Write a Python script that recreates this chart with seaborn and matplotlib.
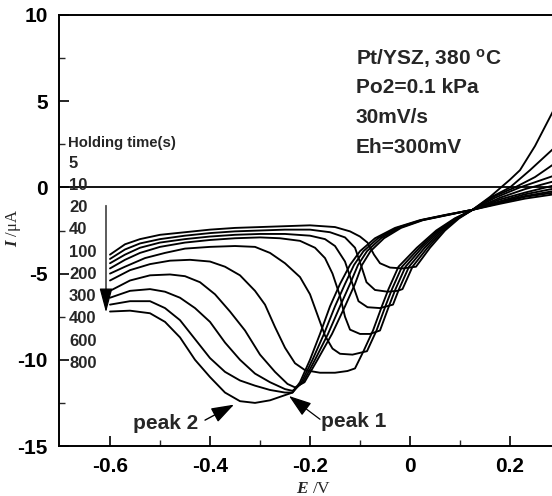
import matplotlib
matplotlib.use("Agg")
import matplotlib.pyplot as plt
import pandas as pd
import seaborn as sns

# ---------------- data ----------------
hold_times = [5, 10, 20, 40, 100, 200, 300, 400, 600, 800]

E_5 = [-0.60, -0.57, -0.54, -0.50, -0.45, -0.40, -0.35, -0.30, -0.25, -0.20, -0.15, -0.12, -0.10, -0.085,
       -0.072, -0.06, -0.04, -0.015, 0.012, 0.04, 0.07, 0.098, 0.125, 0.16, 0.18, 0.20, 0.22, 0.25, 0.30]
I_5 = [-3.9, -3.3, -3.0, -2.75, -2.6, -2.45, -2.35, -2.3, -2.25, -2.2, -2.3, -2.55, -2.85, -3.2,
       -3.9, -4.4, -4.65, -4.7, -4.6, -3.5, -2.5, -1.8, -1.3, -0.55, -0.05, 0.45, 1.0, 2.4, 5.2]

E_10 = [-0.60, -0.57, -0.54, -0.50, -0.45, -0.40, -0.35, -0.30, -0.25, -0.20, -0.16, -0.13, -0.11, -0.097,
        -0.087, -0.07, -0.045, -0.025, -0.015, 0.005, 0.035, 0.0665, 0.096, 0.125, 0.16, 0.20, 0.24, 0.30]
I_10 = [-4.15, -3.6, -3.25, -3.0, -2.8, -2.65, -2.55, -2.5, -2.45, -2.45, -2.6, -2.9, -3.5, -4.6,
        -5.5, -5.95, -6.05, -6.0, -5.9, -4.6, -3.5, -2.5, -1.8, -1.3, -0.6, 0.0, 1.0, 2.6]

E_20 = [-0.60, -0.57, -0.54, -0.50, -0.45, -0.40, -0.35, -0.30, -0.25, -0.20, -0.17, -0.15, -0.13, -0.115,
        -0.103, -0.085, -0.06, -0.034, -0.022, -0.002, 0.0295, 0.063, 0.0945, 0.125, 0.17, 0.21, 0.25, 0.30]
I_20 = [-4.4, -3.9, -3.5, -3.2, -3.0, -2.85, -2.75, -2.7, -2.7, -2.8, -3.0, -3.4, -4.3, -5.6,
        -6.6, -6.95, -7.0, -6.8, -5.9, -4.6, -3.5, -2.5, -1.8, -1.3, -0.5, 0.0, 0.6, 1.6]

E_40 = [-0.60, -0.57, -0.54, -0.50, -0.45, -0.40, -0.35, -0.30, -0.26, -0.22, -0.19, -0.17, -0.155, -0.14,
        -0.13, -0.12, -0.10, -0.08, -0.06, -0.041, -0.029, -0.009, 0.024, 0.0595, 0.0928, 0.125, 0.17, 0.22, 0.30]
I_40 = [-4.7, -4.2, -3.8, -3.45, -3.2, -3.05, -2.95, -2.9, -2.95, -3.1, -3.5, -4.1, -5.0, -6.3,
        -7.5, -8.25, -8.5, -8.5, -8.3, -6.8, -5.9, -4.6, -3.5, -2.5, -1.8, -1.3, -0.6, 0.0, 0.8]

E_100 = [-0.60, -0.57, -0.53, -0.49, -0.45, -0.40, -0.35, -0.31, -0.28, -0.25, -0.22, -0.20, -0.185, -0.17,
         -0.155, -0.14, -0.115, -0.086, -0.067, -0.048, -0.036, -0.016, 0.019, 0.056, 0.091, 0.125, 0.18, 0.23, 0.30]
I_100 = [-5.0, -4.6, -4.1, -3.8, -3.55, -3.45, -3.4, -3.45, -3.8, -4.4, -5.2, -6.2, -7.4, -8.6,
         -9.35, -9.65, -9.7, -9.5, -8.3, -6.8, -5.9, -4.6, -3.5, -2.5, -1.8, -1.3, -0.6, -0.1, 0.45]

E_200 = [-0.60, -0.56, -0.52, -0.48, -0.44, -0.40, -0.37, -0.34, -0.31, -0.29, -0.27, -0.25, -0.23, -0.21,
         -0.18, -0.15, -0.125, -0.11, -0.093, -0.074, -0.055, -0.043, -0.023, 0.0137, 0.0525, 0.0893, 0.125,
         0.18, 0.23, 0.30]
I_200 = [-5.4, -4.8, -4.45, -4.25, -4.2, -4.3, -4.6, -5.1, -6.0, -6.8, -8.1, -9.3, -10.2, -10.6,
         -10.75, -10.75, -10.65, -10.5, -9.5, -8.3, -6.8, -5.9, -4.6, -3.5, -2.5, -1.8, -1.3,
         -0.7, -0.3, 0.2]

E_300 = [-0.60, -0.56, -0.52, -0.48, -0.45, -0.42, -0.39, -0.36, -0.33, -0.30, -0.27, -0.245, -0.23,
         -0.211, -0.185, -0.156, -0.130, -0.110, -0.096, -0.079, -0.052, -0.018, 0.026, 0.076, 0.125, 0.18, 0.23, 0.30]
I_300 = [-6.0, -5.4, -5.1, -5.05, -5.15, -5.5, -6.2, -7.2, -8.3, -9.7, -10.7, -11.4, -11.6,
         -11.3, -10.0, -8.5, -6.9, -5.6, -4.5, -3.7, -2.95, -2.35, -1.9, -1.6, -1.3, -0.8, -0.4, 0.0]

E_400 = [-0.60, -0.56, -0.52, -0.49, -0.46, -0.43, -0.40, -0.37, -0.34, -0.31, -0.28, -0.25, -0.235,
         -0.214, -0.190, -0.164, -0.140, -0.120, -0.104, -0.086, -0.058, -0.022, 0.024, 0.074, 0.125, 0.18, 0.23, 0.30]
I_400 = [-6.4, -6.0, -5.9, -6.05, -6.4, -7.0, -7.8, -9.0, -10.0, -10.8, -11.3, -11.7, -11.8,
         -11.3, -10.0, -8.5, -6.9, -5.6, -4.5, -3.7, -2.95, -2.35, -1.9, -1.6, -1.3, -0.85, -0.5, -0.15]

E_600 = [-0.60, -0.56, -0.52, -0.49, -0.46, -0.43, -0.40, -0.37, -0.34, -0.31, -0.28, -0.25, -0.235,
         -0.217, -0.195, -0.172, -0.150, -0.130, -0.112, -0.093, -0.064, -0.026, 0.022, 0.072, 0.125, 0.18, 0.23, 0.30]
I_600 = [-6.8, -6.6, -6.6, -7.0, -7.7, -8.8, -9.9, -10.7, -11.2, -11.5, -11.75, -11.9, -11.9,
         -11.3, -10.0, -8.5, -6.9, -5.6, -4.5, -3.7, -2.95, -2.35, -1.9, -1.6, -1.3, -0.9, -0.55, -0.25]

E_800 = [-0.60, -0.56, -0.52, -0.49, -0.46, -0.43, -0.40, -0.37, -0.34, -0.31, -0.28, -0.25, -0.235,
         -0.220, -0.200, -0.180, -0.160, -0.140, -0.120, -0.100, -0.070, -0.030, 0.020, 0.070, 0.125, 0.18, 0.23, 0.30]
I_800 = [-7.2, -7.15, -7.3, -7.8, -8.7, -10.0, -11.0, -11.9, -12.4, -12.5, -12.35, -12.05, -11.9,
         -11.3, -10.0, -8.5, -6.9, -5.6, -4.5, -3.7, -2.95, -2.35, -1.9, -1.6, -1.3, -0.95, -0.65, -0.35]

info_lines = ["Pt/YSZ, 380 ${}^{\\mathbf{o}}$C", "Po2=0.1 kPa", "30mV/s", "Eh=300mV"]
x_ticks = [-0.6, -0.4, -0.2, 0.0, 0.2]
x_ticklabels = ["-0.6", "-0.4", "-0.2", "0", "0.2"]
y_ticks = [-15, -10, -5, 0, 5, 10]
y_ticklabels = ["-15", "-10", "-5", "0", "5", "10"]

# ---------------- table for seaborn ----------------
series = [(5, E_5, I_5), (10, E_10, I_10), (20, E_20, I_20), (40, E_40, I_40),
          (100, E_100, I_100), (200, E_200, I_200), (300, E_300, I_300),
          (400, E_400, I_400), (600, E_600, I_600), (800, E_800, I_800)]
df = pd.concat([pd.DataFrame({"E": e, "I": i, "hold": h}) for h, e, i in series],
               ignore_index=True)

# ---------------- style ----------------
sns.set_theme(style="ticks")
plt.rcParams["font.family"] = ["Liberation Sans", "DejaVu Sans"]
plt.rcParams["font.weight"] = "bold"
plt.rcParams["axes.unicode_minus"] = False
plt.rcParams["mathtext.fontset"] = "custom"
plt.rcParams["mathtext.it"] = "Liberation Serif:italic"
plt.rcParams["mathtext.bf"] = "Liberation Sans:bold"
plt.rcParams["mathtext.rm"] = "Liberation Sans"

fig = plt.figure(figsize=(5.52, 4.96), dpi=100)
ax = fig.add_axes([59 / 552, 50 / 496, 501 / 552, 431 / 496])

sns.lineplot(data=df, x="E", y="I", units="hold", estimator=None, sort=False,
             color="black", lw=1.35, ax=ax, legend=False)

ax.axhline(0, color="black", lw=1.3, zorder=1)

ax.set_xlim(-0.702, 0.30)
ax.set_ylim(-15, 10)
ax.set_xticks(x_ticks)
ax.set_xticklabels(x_ticklabels)
ax.set_xticks([-0.5, -0.3, -0.1, 0.1], minor=True)
ax.set_yticks(y_ticks)
ax.set_yticklabels(y_ticklabels)
ax.set_yticks([-12.5, -7.5, -2.5, 2.5, 7.5], minor=True)
ax.tick_params(which="major", direction="in", length=7, width=1.2, labelsize=15, pad=8,
               colors="black")
ax.tick_params(which="minor", direction="in", length=4, width=1.0)
for lbl in ax.get_xticklabels() + ax.get_yticklabels():
    lbl.set_fontweight("bold")

for s in ["left", "bottom", "top"]:
    ax.spines[s].set_linewidth(1.4)
    ax.spines[s].set_color("black")
ax.spines["right"].set_visible(False)

ax.set_xlabel("$\\mathit{E}$ /V", fontfamily="Liberation Serif", fontweight="normal",
              fontsize=12.5)
ax.xaxis.set_label_coords(0.509, -0.081)
ax.set_ylabel("$\\mathit{I}$ /\u03bcA", fontfamily="Liberation Serif", fontweight="normal",
              fontsize=12)
ax.yaxis.set_label_coords(-0.072, 0.506)

# info block
info_y0, info_dy = 7.5, -1.72
for k, t in enumerate(info_lines):
    ax.text(-0.108, info_y0 + k * info_dy, t, fontsize=15, fontweight="bold",
            va="center", ha="left")

# holding time legend
ax.text(-0.684, 2.56, "Holding time(s)", fontsize=10.7, fontweight="bold", va="center")
lab_y0, lab_dy = 1.40, -1.29
for k, h in enumerate(hold_times):
    ax.text(-0.682, lab_y0 + k * lab_dy, str(h), fontsize=12, fontweight="bold", va="center")

ax.annotate("", xy=(-0.608, -7.25), xytext=(-0.608, -1.05),
            arrowprops=dict(arrowstyle="-|>,head_length=0.75,head_width=0.2",
                            mutation_scale=20, color="black", lw=0.9,
                            shrinkA=0, shrinkB=0))

# peak labels
ax.text(-0.554, -13.7, "peak 2", fontsize=15, fontweight="bold", va="center")
ax.annotate("", xy=(-0.352, -12.6), xytext=(-0.41, -13.5),
            arrowprops=dict(arrowstyle="-|>,head_length=0.7,head_width=0.24",
                            mutation_scale=20, color="black", lw=1.0,
                            shrinkA=0, shrinkB=0))
ax.text(-0.178, -13.6, "peak 1", fontsize=15, fontweight="bold", va="center")
ax.annotate("", xy=(-0.242, -12.1), xytext=(-0.18, -13.45),
            arrowprops=dict(arrowstyle="-|>,head_length=0.7,head_width=0.24",
                            mutation_scale=20, color="black", lw=0.9,
                            shrinkA=0, shrinkB=0))

fig.savefig("out.png", dpi=100)
